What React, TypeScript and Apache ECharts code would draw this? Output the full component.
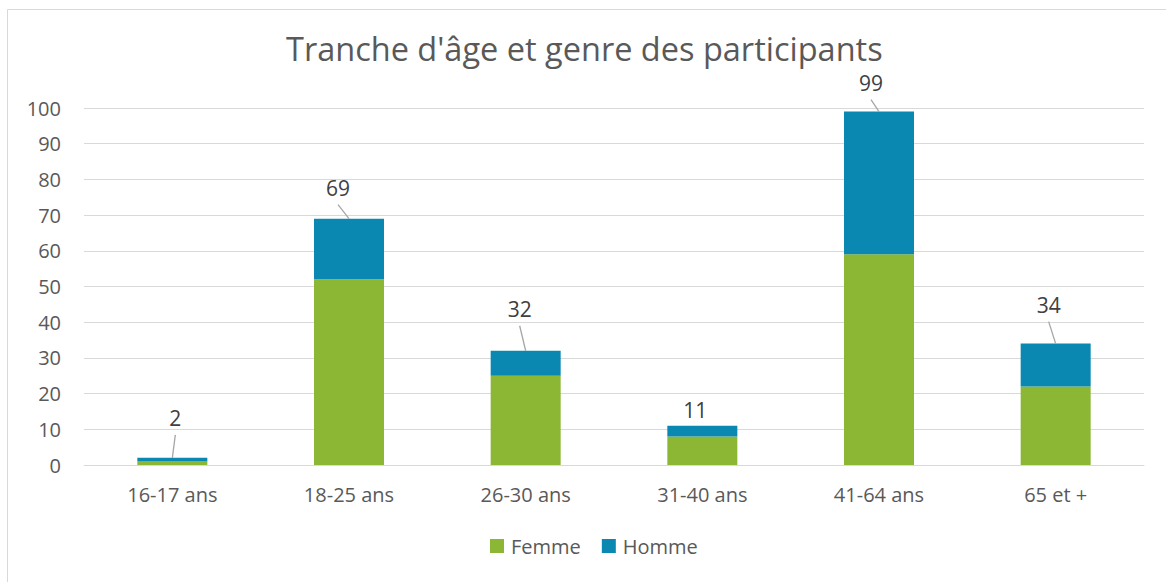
import React, { useEffect, useRef } from "react";
import * as echarts from "echarts";

const categories = ["16-17 ans", "18-25 ans", "26-30 ans", "31-40 ans", "41-64 ans", "65 et +"];
const femme = [1, 52, 25, 8, 59, 22];
const homme = [1, 17, 7, 3, 40, 12];
const totals = [2, 69, 32, 11, 99, 34];
const labelDx = [3, -11, -6, -7, -8, -7];
const labelDy = [-40, -31, -42, -16, -29, -39];

export default function App() {
  const ref = useRef<HTMLDivElement>(null);
  useEffect(() => {
    if (!ref.current) return;
    const chart = echarts.init(ref.current, null, { renderer: "svg" });
    const font = "'Open Sans', 'Noto Sans', sans-serif";
    chart.setOption({
      animation: false,
      textStyle: { fontFamily: font },
      title: {
        text: "Tranche d'âge et genre des participants",
        left: 286,
        top: 31,
        padding: [0, 0, 0, 0],
        textStyle: { fontFamily: font, fontSize: 32.5, fontWeight: "normal", color: "#595959", lineHeight: 34 },
      },
      graphic: [
        {
          type: "rect",
          shape: { x: 7.5, y: 9.5, width: 1200, height: 600 },
          style: { fill: "none", stroke: "#d9d9d9", lineWidth: 1 },
          silent: true,
        },
      ],
      legend: {
        bottom: 21,
        left: 485,
        itemWidth: 14,
        itemHeight: 14,
        itemGap: 21,
        icon: "rect",
        textStyle: { fontFamily: font, fontSize: 20, color: "#595959", padding: [0, 0, 0, 2] },
        data: ["Femme", "Homme"],
      },
      grid: { left: 84, right: 22, top: 108, bottom: 117, containLabel: false },
      xAxis: {
        type: "category",
        data: categories,
        axisLine: { show: true, lineStyle: { color: "#d9d9d9" } },
        axisTick: { show: false },
        axisLabel: { fontFamily: font, fontSize: 20, color: "#595959", margin: 19 },
      },
      yAxis: {
        type: "value",
        min: 0,
        max: 100,
        interval: 10,
        axisLine: { show: false },
        axisTick: { show: false },
        axisLabel: { fontFamily: font, fontSize: 20, color: "#595959", margin: 23 },
        splitLine: { lineStyle: { color: "#d9d9d9", width: 1 } },
      },
      series: [
        {
          name: "Femme",
          type: "bar",
          stack: "total",
          barWidth: 70,
          data: femme,
          itemStyle: { color: "#8BB735" },
        },
        {
          name: "Homme",
          type: "bar",
          stack: "total",
          barWidth: 70,
          data: homme,
          itemStyle: { color: "#0B88B1" },
        },
        {
          name: "Total",
          type: "custom",
          silent: true,
          z: 5,
          data: totals.map((t, i) => [i, t]),
          renderItem: (params: any, api: any) => {
            const i = api.value(0);
            const top = api.coord([i, api.value(1)]);
            const lx = top[0] + labelDx[i];
            const ly = top[1] + labelDy[i];
            const children: any[] = [
              {
                type: "text",
                x: lx,
                y: ly,
                style: {
                  text: String(totals[i]),
                  fontFamily: font,
                  fontSize: 21,
                  fill: "#404040",
                  align: "center",
                  verticalAlign: "middle",
                },
              },
            ];
            if (top[1] - (ly + 17) > 4) {
              children.push({
                type: "line",
                shape: { x1: lx, y1: ly + 17, x2: top[0], y2: top[1] },
                style: { stroke: "#a6a6a6", lineWidth: 1.3 },
              });
            }
            return { type: "group", children };
          },
        },
      ],
    });
    return () => chart.dispose();
  }, []);
  return (
    <div
      ref={ref}
      style={{ position: "absolute", left: 0, top: 0, width: 1166, height: 582, background: "#fff" }}
    />
  );
}
